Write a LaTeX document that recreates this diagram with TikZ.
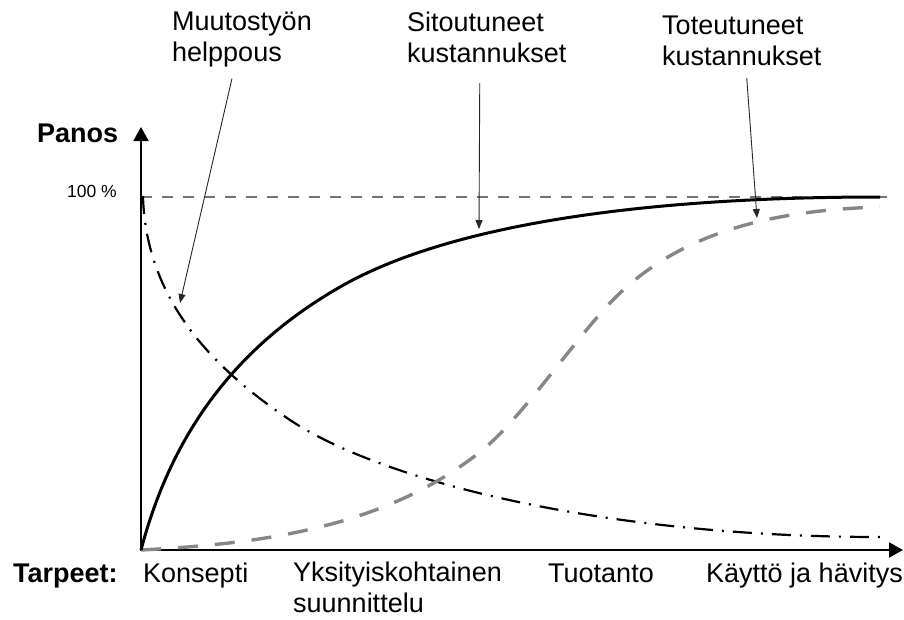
\documentclass[tikz,border=0pt]{standalone}
\usepackage{fontspec}
\setmainfont{Liberation Sans}
\usepackage{tikz}
\usetikzlibrary{arrows.meta}
\tikzset{note/.style = {draw=black!85, line width=0.9pt, -{Triangle[length=9pt,width=7pt]}}}

\begin{document}
\begin{tikzpicture}[x=1pt,y=-1pt,
  text node/.style={inner sep=0pt,font=\fontsize{27}{31}\selectfont},
  axis/.style={line width=2pt,{Triangle[length=14pt,width=15pt]}-{Triangle[length=14pt,width=15pt]}}]
  \useasboundingbox (0,0) rectangle (904,619);

  % axes and the 100 % level
  \coordinate (O) at (141,550);
  \coordinate (ytop) at (141,127);
  \coordinate (xend) at (903,550);
  \coordinate (full) at (141,197);
  \coordinate (fullend) at (890,197);
  \draw[axis] (ytop) -- (O) -- (xend);
  \draw[black!55, line width=1.1pt, dash pattern=on 11pt off 10pt] (full) -- (fullend);

  \node[text node, anchor=base west, font=\fontsize{27}{31}\selectfont\bfseries] (panos) at (37,142) {Panos};
  \node[text node, anchor=base east, font=\fontsize{17.5}{20}\selectfont] (sata) at (117,197) {100 \%};

  % curves
  \draw[black, line width=2.2pt, dash pattern=on 19pt off 9pt on 2pt off 9pt]
    (141,197) -- (143,197) .. controls (146,290) and (200,360) .. (290,420)
    .. controls (380,480) and (600,537) .. (880,537);
  \draw[black!47, line width=3.4pt, dash pattern=on 20pt off 17pt]
    (O) .. controls (251,544) and (380,531) .. (480,452)
    .. controls (520,420.4) and (570,345.4) .. (610,303)
    .. controls (680,229) and (780,210) .. (880,207);
  \draw[black, line width=3pt]
    (O) .. controls (170,440) and (230,350) .. (340,287)
    .. controls (430,235) and (600,197) .. (880,197);

  % labels and pointers
  \node[text node, anchor=north west, align=left] (muutos) at (172,12) {Muutostyön\\helppous};
  \node[text node, anchor=north west, align=left] (sitout) at (407,12) {Sitoutuneet\\kustannukset};
  \node[text node, anchor=north west, align=left] (toteut) at (662,16) {Toteutuneet\\kustannukset};

  \coordinate (helppousTip) at (180,303);
  \coordinate (sitoutTip) at (479,229);
  \coordinate (toteutTip) at (757,218);
  \draw[note] ([xshift=-10pt,yshift=-11pt]muutos.south) -- (helppousTip);
  \draw[note] ([xshift=-7pt,yshift=-20pt]sitout.south) -- (sitoutTip);
  \draw[note] ([xshift=5pt,yshift=-12pt]toteut.south) -- (toteutTip);

  % phases
  \node[text node, anchor=base west, font=\fontsize{27}{31}\selectfont\bfseries] (tarpeet) at (13,582) {Tarpeet:};
  \node[text node, anchor=base west] (konsepti) at (143,582) {Konsepti};
  \node[text node, anchor=north west, align=left] (yksity) at (293,562) {Yksityiskohtainen\\suunnittelu};
  \node[text node, anchor=base west] (tuotanto) at (548,582) {Tuotanto};
  \node[text node, anchor=base west] (kaytto) at (706,582) {Käyttö ja hävitys};
\end{tikzpicture}
\end{document}
